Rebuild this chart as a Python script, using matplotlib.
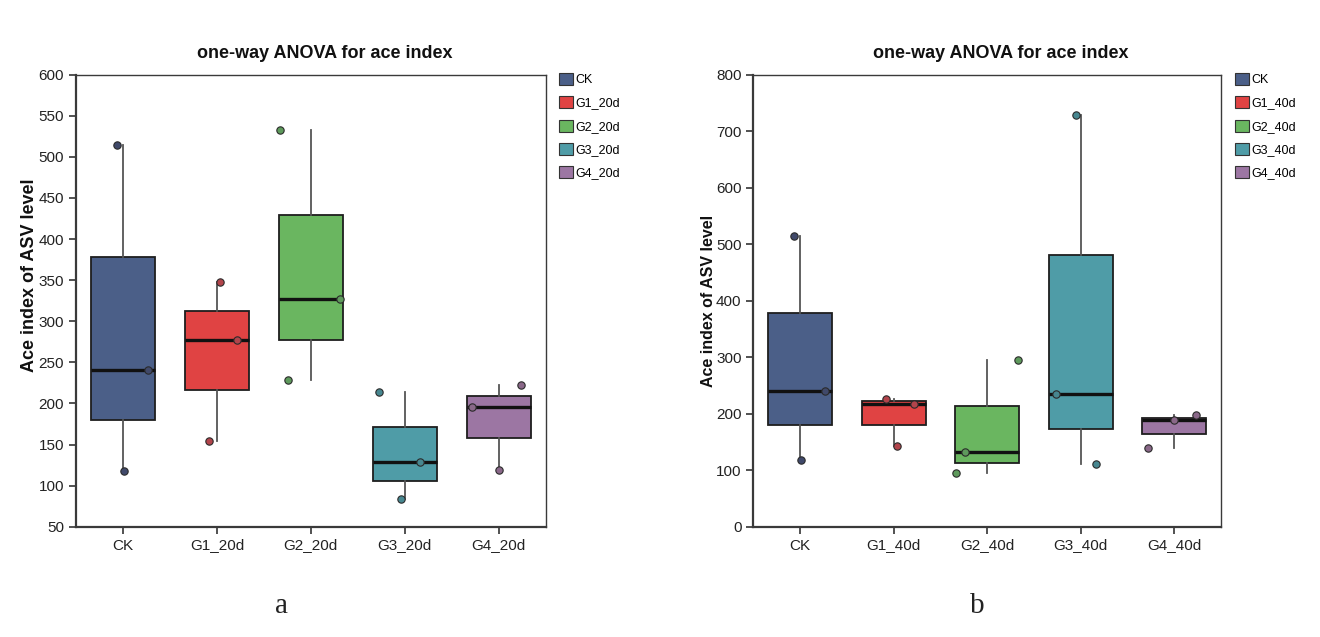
import matplotlib
matplotlib.use("Agg")
import matplotlib.pyplot as plt
from matplotlib.patches import Patch
import numpy as np

plt.rcParams['font.family'] = ['Liberation Sans', 'DejaVu Sans']

# ---- data ----
groups_a = ["CK", "G1_20d", "G2_20d", "G3_20d", "G4_20d"]
groups_b = ["CK", "G1_40d", "G2_40d", "G3_40d", "G4_40d"]

ck = [515, 240.5, 118]
g1_20d = [348, 277.5, 154.6]
g2_20d = [533, 326.7, 228]
g3_20d = [214, 128.7, 83.7]
g4_20d = [222.4, 195.6, 119.4]

g1_40d = [226, 217.7, 142.8]
g2_40d = [132.7, 94.5, 295.6]
g3_40d = [729, 234.3, 111.5]
g4_40d = [197.2, 188.3, 138.7]

values_a = [ck, g1_20d, g2_20d, g3_20d, g4_20d]
values_b = [ck, g1_40d, g2_40d, g3_40d, g4_40d]

# horizontal jitter of the sample points (category units)
jitter_a = [[-0.06, 0.265, 0.015], [0.035, 0.215, -0.083], [-0.33, 0.31, -0.24],
            [-0.27, 0.165, -0.045], [0.237, -0.28, 0.0]]
jitter_b = [[-0.06, 0.265, 0.013], [-0.085, 0.213, 0.032], [-0.24, -0.334, 0.326],
            [-0.047, -0.266, 0.16], [0.23, 0.0, -0.28]]

colors = ["#4B5F88", "#E04343", "#6AB660", "#4F9CA7", "#9C76A3"]
point_colors = ["#40496A", "#B2444B", "#5E9A5C", "#478790", "#8A6889"]

title = "one-way ANOVA for ace index"
ylabel = "Ace index of ASV level"

fig = plt.figure(figsize=(13.2, 6.37), dpi=100)
W, H = 1320, 637


def panel(rect, groups, values, jitter, ylim, yticks, legend_x, label, label_x,
          ylabel_xy, ylabel_size):
    ax = fig.add_axes(rect)
    pos = np.arange(len(groups))
    bp = ax.boxplot(values, positions=pos, widths=0.685, patch_artist=True,
                    whis=(0, 100), showcaps=False, showfliers=False,
                    medianprops=dict(color="#111111", linewidth=2.4),
                    whiskerprops=dict(color="#555555", linewidth=1.3),
                    boxprops=dict(linewidth=1.3))
    for patch, c in zip(bp['boxes'], colors):
        patch.set_facecolor(c)
        patch.set_edgecolor("#1e1e1e")
    for i, (vals, jit) in enumerate(zip(values, jitter)):
        ax.scatter(i + np.array(jit), vals, s=28, color=point_colors[i],
                   edgecolor="#2a2a2a", linewidth=0.8, zorder=5)
    ax.set_xlim(-0.5, len(groups) - 0.5)
    ax.set_ylim(*ylim)
    ax.set_yticks(yticks)
    ax.set_xticks(pos)
    ax.set_xticklabels(groups)
    ax.tick_params(axis='both', labelsize=11, direction='out', length=5,
                   width=1.2, colors="#333333", labelcolor="#222222")
    for s in ['left', 'bottom']:
        ax.spines[s].set_linewidth(1.6)
        ax.spines[s].set_color("#3a3a3a")
    for s in ['top', 'right']:
        ax.spines[s].set_linewidth(1.0)
        ax.spines[s].set_color("#3a3a3a")
    ax.set_ylabel(ylabel, fontsize=ylabel_size, fontweight='bold', color="#111111")
    ax.yaxis.set_label_coords(*ylabel_xy)
    ax.text(0.53, 1.0 + 17 / 452, title, transform=ax.transAxes, ha='center',
            va='baseline', fontsize=13, fontweight='bold', color="#111111")
    handles = [Patch(facecolor=c, edgecolor="#333333", linewidth=0.8) for c in colors]
    fig.legend(handles, groups, loc='upper left',
               bbox_to_anchor=(legend_x / W, 1 - 73 / H), frameon=False,
               fontsize=9, handlelength=1.1, handleheight=1.1,
               handletextpad=0.2, labelspacing=0.8, borderaxespad=0,
               borderpad=0)
    fig.text(label_x / W, 24 / H, label, ha='center', va='baseline',
             fontsize=21, family='Liberation Serif', color="#222222")
    return ax


panel([76 / W, 110.3 / H, 469.7 / W, 452 / H], groups_a, values_a, jitter_a,
      (50, 600), np.arange(50, 601, 50), 559, "a", 281, (-0.080, 0.556), 13)
panel([753.3 / W, 110.3 / H, 467.7 / W, 452 / H], groups_b, values_b, jitter_b,
      (0, 800), np.arange(0, 801, 100), 1235, "b", 977, (-0.079, 0.5), 11.5)

fig.savefig("out.png", dpi=100)
